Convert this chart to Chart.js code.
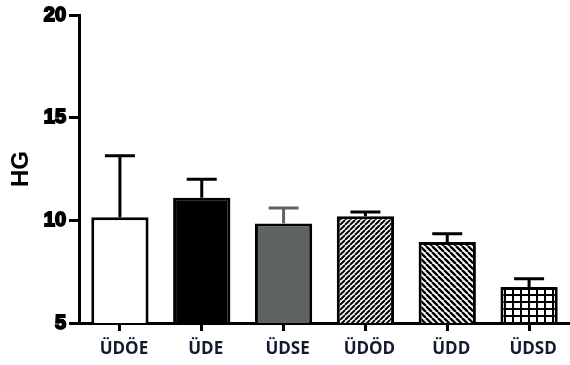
<!DOCTYPE html>
<html>
<head>
<meta charset="utf-8">
<script src="https://cdn.jsdelivr.net/npm/chart.js@4/dist/chart.umd.min.js"></script>
<style>
  html, body { margin: 0; padding: 0; background: #fff; }
  #wrap { width: 570px; height: 365px; }
</style>
</head>
<body>
<div id="wrap"><canvas id="c" width="570" height="365"></canvas></div>
<script>
// Group labels and measured HG values (mean with upper SEM)
const categories = ['ÜDÖE', 'ÜDE', 'ÜDSE', 'ÜDÖD', 'ÜDD', 'ÜDSD'];
const means = [10.15, 11.1, 9.85, 10.2, 8.95, 6.75];
const sems = [3.0, 0.9, 0.75, 0.2, 0.4, 0.4];
const yTickValues = [5, 10, 15, 20];

// Fill patterns for the hatched groups
function tile(w, h, draw) {
  const t = document.createElement('canvas');
  t.width = w; t.height = h;
  const g = t.getContext('2d');
  g.fillStyle = '#fff';
  g.fillRect(0, 0, w, h);
  draw(g, w, h);
  return g.createPattern(t, 'repeat');
}
function hatch(size, lw, rising) {
  return tile(size, size, (g, s) => {
    g.strokeStyle = '#000';
    g.lineWidth = lw;
    g.beginPath();
    for (let k = -1; k <= 1; k++) {
      if (rising) { g.moveTo(k * s, s); g.lineTo(k * s + s, 0); }
      else { g.moveTo(k * s, 0); g.lineTo(k * s + s, s); }
    }
    g.stroke();
  });
}
const grid = tile(8, 7, (g, w, h) => {
  g.fillStyle = '#000';
  g.fillRect(0, 0, w, 2);
  g.fillRect(0, 0, 2, h);
});

const fills = ['#ffffff', '#000000', '#5f6462', hatch(5, 2, true), hatch(6, 2.4, false), grid];
const errColors = ['#000', '#000', '#5f6462', '#000', '#000', '#000'];

// Upper error bars drawn from the bar value to value + SEM
const errorBars = {
  id: 'errorBars',
  afterDatasetsDraw(chart) {
    const ctx = chart.ctx;
    const y = chart.scales.y;
    const meta = chart.getDatasetMeta(0);
    meta.data.forEach((bar, i) => {
      const top = y.getPixelForValue(means[i] + sems[i]);
      ctx.save();
      ctx.strokeStyle = errColors[i];
      ctx.lineWidth = 3;
      ctx.lineCap = 'butt';
      ctx.beginPath();
      ctx.moveTo(bar.x, bar.y);
      ctx.lineTo(bar.x, top);
      ctx.moveTo(bar.x - 15, top);
      ctx.lineTo(bar.x + 15, top);
      ctx.stroke();
      ctx.restore();
    });
  }
};

new Chart(document.getElementById('c'), {
  type: 'bar',
  data: {
    labels: categories,
    datasets: [{
      data: means,
      backgroundColor: fills,
      borderColor: '#000',
      borderWidth: 3,
      borderSkipped: false,
      categoryPercentage: 1,
      barPercentage: 0.7
    }]
  },
  options: {
    responsive: false,
    animation: false,
    events: [],
    layout: { padding: { top: 13, right: 0, left: 0, bottom: 0 } },
    plugins: { legend: { display: false }, tooltip: { enabled: false } },
    scales: {
      x: {
        offset: true,
        grid: { offset: false, drawOnChartArea: false, color: '#000', lineWidth: 3, tickLength: 8 },
        border: { color: '#000', width: 3 },
        ticks: {
          color: '#141a2e',
          font: { family: 'Open Sans', weight: 'bold', size: 17 },
          padding: 8,
          labelOffset: 4,
          maxRotation: 0,
          autoSkip: false
        },
        afterFit(s) { s.height = 42; }
      },
      y: {
        min: 5,
        max: 20,
        afterBuildTicks(s) { s.ticks = yTickValues.map(v => ({ value: v })); },
        grid: { drawOnChartArea: false, color: '#000', lineWidth: 3, tickLength: 10 },
        border: { color: '#000', width: 3 },
        ticks: {
          color: '#000',
          font: { family: 'Liberation Sans', weight: 'bold', size: 20 },
          textStrokeColor: '#000',
          textStrokeWidth: 1.8,
          padding: 3
        },
        title: {
          display: true,
          text: 'HG',
          color: '#000',
          font: { family: 'Liberation Sans', weight: 'bold', size: 24 },
          padding: { top: 7, bottom: 0 }
        },
        afterFit(s) { s.width = 79; }
      }
    }
  },
  plugins: [errorBars]
});
</script>
</body>
</html>
